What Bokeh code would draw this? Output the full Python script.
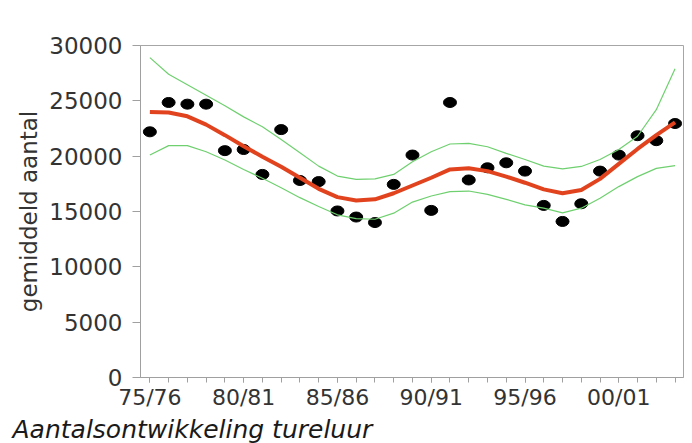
from bokeh.plotting import figure
from bokeh.models import Range1d, Title, FixedTicker, ColumnDataSource
from bokeh.embed import file_html
from bokeh.resources import INLINE

seasons = ["75/76", "76/77", "77/78", "78/79", "79/80", "80/81", "81/82", "82/83",
           "83/84", "84/85", "85/86", "86/87", "87/88", "88/89", "89/90", "90/91",
           "91/92", "92/93", "93/94", "94/95", "95/96", "96/97", "97/98", "98/99",
           "99/00", "00/01", "01/02", "02/03", "03/04"]
counts = [22200, 24850, 24700, 24700, 20500, 20600, 18350, 22400, 17800, 17700,
          15050, 14500, 14000, 17450, 20100, 15100, 24850, 17850, 18950, 19400,
          18650, 15550, 14100, 15700, 18650, 20100, 21850, 21400, 22950]
trend = [24000, 23950, 23600, 22850, 21900, 20900, 19950, 19050, 18050, 17050,
         16300, 16000, 16100, 16650, 17350, 18050, 18800, 18900, 18650, 18150,
         17600, 17000, 16650, 16950, 17950, 19300, 20650, 21900, 23050]
upper = [28900, 27400, 26450, 25500, 24550, 23550, 22650, 21500, 20300, 19100,
         18200, 17900, 17950, 18350, 19500, 20400, 21100, 21150, 20850, 20250,
         19700, 19100, 18850, 19070, 19700, 20600, 21800, 24200, 27900]
lower = [20100, 20950, 20950, 20400, 19650, 18800, 18000, 17150, 16250, 15450,
         14700, 14350, 14300, 14850, 15850, 16400, 16800, 16850, 16550, 16100,
         15600, 15300, 14870, 15300, 16200, 17250, 18150, 18900, 19150]
tick_labels = ["75/76", "80/81", "85/86", "90/91", "95/96", "00/01"]
y_ticks = [0, 5000, 10000, 15000, 20000, 25000, 30000]

idx = list(range(len(seasons)))
src = ColumnDataSource(dict(x=idx, counts=counts, trend=trend, upper=upper, lower=lower))

p = figure(width=692, height=443, output_backend="svg", toolbar_location=None,
           x_range=Range1d(-0.5, 28.45), y_range=Range1d(0, 30000),
           min_border_left=140, min_border_right=9, min_border_top=45,
           min_border_bottom=64)
p.xgrid.visible = False
p.ygrid.visible = False
p.outline_line_color = "#a6a6a6"
p.background_fill_color = "white"
p.border_fill_color = "white"

p.ellipse("x", "counts", source=src, width=13, height=10, width_units="screen",
          height_units="screen", fill_color="black", line_color="black")
p.line("x", "upper", source=src, line_color="#6fd06f", line_width=1.2)
p.line("x", "lower", source=src, line_color="#6fd06f", line_width=1.2)
p.line("x", "trend", source=src, line_color="#e2431f", line_width=4)

tick_pos = [seasons.index(t) for t in tick_labels]
p.xaxis.ticker = FixedTicker(ticks=tick_pos, minor_ticks=idx)
p.xaxis.major_label_overrides = {pos: lab for pos, lab in zip(tick_pos, tick_labels)}
p.yaxis.ticker = FixedTicker(ticks=y_ticks, minor_ticks=[])

for ax in (p.xaxis[0], p.yaxis[0]):
    ax.axis_line_color = "#a0a0a0"
    ax.major_tick_line_color = "#a0a0a0"
    ax.minor_tick_line_color = "#a0a0a0"
    ax.major_tick_in = 0
    ax.minor_tick_in = 0
    ax.major_label_text_font = "DejaVu Sans"
    ax.major_label_text_font_size = "22px"
    ax.major_label_text_color = "#333333"

p.xaxis.major_tick_out = 5
p.xaxis.minor_tick_out = 5
p.xaxis.major_label_standoff = 2
p.yaxis.major_tick_out = 8
p.yaxis.minor_tick_out = 0
p.yaxis.major_label_standoff = 10
p.yaxis.major_label_text_font_size = "23px"

p.yaxis.axis_label = "gemiddeld aantal"
p.yaxis.axis_label_text_font = "DejaVu Sans"
p.yaxis.axis_label_text_font_size = "23px"
p.yaxis.axis_label_text_font_style = "normal"
p.yaxis.axis_label_text_color = "#333333"
p.yaxis.axis_label_standoff = 4

title = Title(text="Aantalsontwikkeling tureluur", align="left", offset=-128,
              text_font="DejaVu Sans", text_font_style="italic",
              text_font_size="25px", text_color="#1a1a1a", standoff=0)
p.add_layout(title, "below")

open("out.html", "w").write(file_html(p, INLINE))
